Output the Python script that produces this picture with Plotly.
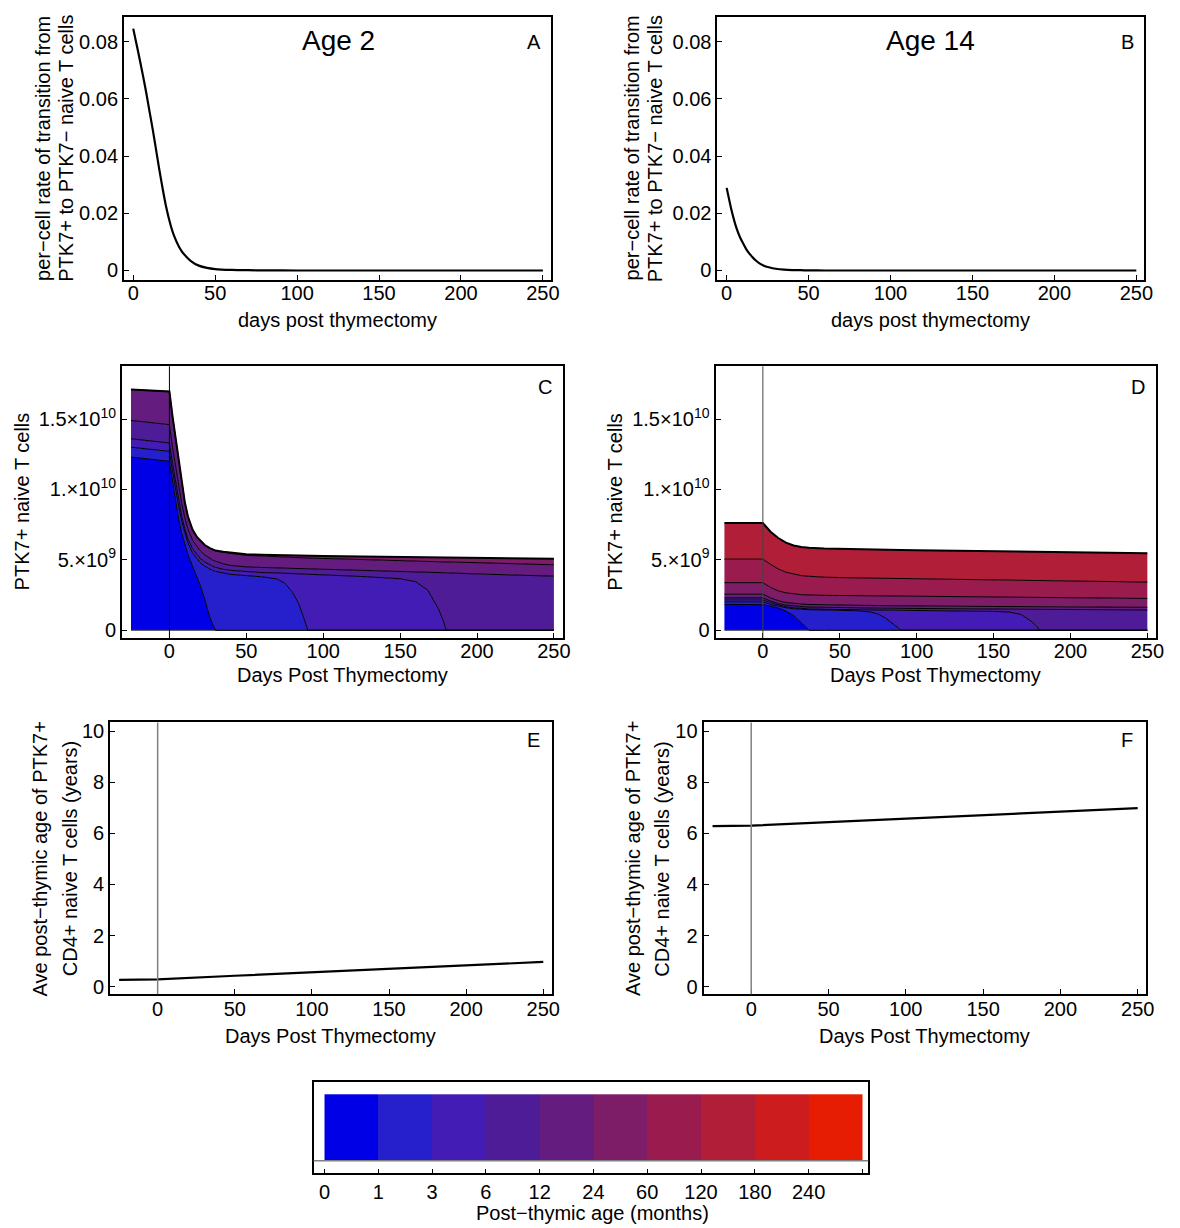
import plotly.graph_objects as go

FONT = "Liberation Sans"
W, H = 1180, 1228

# ---------------- Panels A / B : per-cell transition rate ----------------
rate_days = [0, 3, 6, 8, 10, 12, 14, 16, 18, 20, 23, 25, 28, 30, 35, 40, 45, 50, 60, 70, 80, 100, 150, 200, 250]
rate_age2 = [0.0846, 0.0765, 0.068, 0.062, 0.0555, 0.049, 0.042, 0.035, 0.0285, 0.0225, 0.0155, 0.012,
             0.0082, 0.0064, 0.0034, 0.0017, 0.0009, 0.0005, 0.0002, 0.0001, 0.00005, 0, 0, 0, 0]
rate_age14 = [0.0289, 0.021, 0.0148, 0.0118, 0.0095, 0.0074, 0.0058, 0.0045, 0.0034, 0.0025, 0.0016, 0.0012,
              0.0008, 0.0006, 0.0003, 0.00015, 0.0001, 0.00005, 0, 0, 0, 0, 0, 0, 0]

# ---------------- Panel C : age 2, cumulative counts (x 1e9) by post-thymic age ----------------
days_C = [-25, 0, 2, 4, 6, 8, 10, 12, 15, 18, 20, 23, 26, 28, 30, 35, 40, 50, 60, 70, 75, 80, 84, 87, 90,
          100, 125, 150, 160, 168, 172, 175, 178, 180, 200, 225, 250]
C_lt1 = [12.3, 12.0, 10.6, 9.2, 7.9, 6.9, 6.1, 5.4, 4.55, 3.7, 3.2, 2.2, 1.0, 0.45, 0] + [0] * 22
C_lt3 = [13.0, 12.7, 11.3, 10.0, 8.8, 7.75, 6.9, 6.2, 5.5, 5.05, 4.8, 4.55, 4.35, 4.25, 4.18, 4.05, 3.97,
         3.88, 3.8, 3.65, 3.35, 2.7, 1.9, 1.0, 0] + [0] * 12
C_lt6 = [13.6, 13.3, 11.85, 10.5, 9.2, 8.1, 7.2, 6.5, 5.8, 5.35, 5.1, 4.85, 4.65, 4.55, 4.47, 4.33, 4.25,
         4.15, 4.1, 4.07, 4.05, 4.03, 4.01, 4.0, 3.99, 3.95, 3.82, 3.66, 3.45, 2.85, 2.1, 1.5, 0.7, 0, 0, 0, 0]
C_lt12 = [14.9, 14.6, 13.0, 11.6, 10.2, 9.0, 8.0, 7.2, 6.4, 5.9, 5.65, 5.35, 5.12, 5.0, 4.9, 4.72, 4.6,
          4.5, 4.46, 4.43, 4.42, 4.41, 4.40, 4.39, 4.39, 4.36, 4.27, 4.18, 4.15, 4.13, 4.11, 4.10, 4.09, 4.08,
          4.0, 3.92, 3.84]
C_lt24 = [17.10, 16.95, 15.19, 13.59, 11.99, 10.39, 9.09, 8.09, 7.14, 6.59, 6.33, 6.03, 5.83, 5.72, 5.63,
          5.53, 5.45, 5.32, 5.26, 5.21, 5.19, 5.16, 5.15, 5.13, 5.13, 5.10, 5.01, 4.94, 4.91, 4.89, 4.88,
          4.87, 4.86, 4.85, 4.80, 4.72, 4.65]
C_lt60 = [17.10, 16.95, 15.2, 13.6, 12.0, 10.4, 9.1, 8.1, 7.15, 6.6, 6.35, 6.05, 5.85, 5.75, 5.66, 5.57,
          5.50, 5.40, 5.36, 5.33, 5.32, 5.31, 5.30, 5.29, 5.29, 5.27, 5.23, 5.20, 5.19, 5.18, 5.17, 5.17,
          5.16, 5.16, 5.14, 5.10, 5.07]

# ---------------- Panel D : age 14 ----------------
days_D = [-25, 0, 5, 10, 15, 20, 25, 28, 30, 40, 50, 60, 70, 75, 80, 85, 88, 90, 100, 125, 150, 160, 168,
          172, 175, 178, 180, 200, 225, 250]
D_lt1 = [1.84, 1.82, 1.72, 1.58, 1.36, 1.05, 0.55, 0.2, 0] + [0] * 21
D_lt3 = [2.02, 2.02, 1.84, 1.70, 1.60, 1.53, 1.49, 1.47, 1.46, 1.44, 1.42, 1.39, 1.30, 1.15, 0.85, 0.40,
         0.12, 0] + [0] * 12
D_lt6 = [2.16, 2.16, 1.96, 1.80, 1.68, 1.60, 1.55, 1.53, 1.52, 1.49, 1.47, 1.46, 1.45, 1.44, 1.43, 1.42,
         1.42, 1.41, 1.40, 1.37, 1.34, 1.30, 1.12, 0.85, 0.6, 0.28, 0, 0, 0, 0]
D_lt12 = [2.30, 2.30, 2.08, 1.90, 1.79, 1.72, 1.68, 1.66, 1.65, 1.62, 1.60, 1.59, 1.58, 1.57, 1.57, 1.56,
          1.56, 1.56, 1.55, 1.53, 1.51, 1.50, 1.50, 1.49, 1.49, 1.49, 1.49, 1.47, 1.46, 1.44]
D_lt24 = [2.56, 2.56, 2.30, 2.10, 1.97, 1.90, 1.86, 1.84, 1.83, 1.80, 1.78, 1.77, 1.76, 1.75, 1.75, 1.74,
          1.74, 1.74, 1.73, 1.71, 1.69, 1.68, 1.68, 1.68, 1.68, 1.68, 1.68, 1.67, 1.65, 1.63]
D_lt60 = [3.38, 3.38, 3.05, 2.80, 2.66, 2.58, 2.53, 2.51, 2.50, 2.48, 2.47, 2.46, 2.45, 2.45, 2.44, 2.44,
          2.44, 2.43, 2.42, 2.40, 2.37, 2.36, 2.35, 2.35, 2.34, 2.34, 2.34, 2.32, 2.29, 2.26]
D_lt120 = [5.05, 5.05, 4.68, 4.36, 4.12, 3.98, 3.88, 3.85, 3.83, 3.77, 3.74, 3.72, 3.70, 3.69, 3.68, 3.66,
           3.66, 3.65, 3.64, 3.61, 3.58, 3.56, 3.55, 3.54, 3.54, 3.53, 3.53, 3.50, 3.46, 3.42]
D_lt180 = [7.61, 7.61, 7.0, 6.55, 6.22, 6.02, 5.92, 5.88, 5.86, 5.80, 5.77, 5.75, 5.73, 5.72, 5.71, 5.70,
           5.70, 5.70, 5.69, 5.65, 5.61, 5.60, 5.58, 5.58, 5.57, 5.57, 5.57, 5.54, 5.50, 5.47]

# ---------------- Panels E / F : average post-thymic age (years) ----------------
age_days = [-25, 0, 50, 100, 150, 200, 250]
avg_age2 = [0.27, 0.29, 0.43, 0.56, 0.70, 0.84, 0.97]
avg_age14 = [6.28, 6.30, 6.44, 6.57, 6.71, 6.85, 6.99]

# ---------------- Colour key ----------------
age_bin_labels = ["0", "1", "3", "6", "12", "24", "60", "120", "180", "240", ""]
age_bin_colors = ["#0000E6", "#2620CC", "#421CB4", "#4E1C96", "#641C7E",
                  "#7D1C67", "#9A1C4E", "#B01E37", "#CC1C1E", "#E61C03"]

# ======================================================================
def px(x):
    return x / W


def py(y):
    return 1 - y / H


fig = go.Figure()

# frame geometry (pixels): left, right, top, bottom
frames = {
    1: (125, 555, 15, 279),    # A
    2: (723, 1153, 15, 279),   # B
    3: (123, 567, 366, 639),   # C
    4: (721, 1165, 366, 639),  # D
    5: (111, 556, 724, 997),   # E
    6: (709, 1155, 724, 997),  # F
    7: (316, 875, 1085, 1177), # colour key
}

tickfont = dict(family=FONT, size=20, color="black")
base_axis = dict(showline=True, linecolor="black", linewidth=2, mirror=True, ticks="inside", ticklen=5,
                 tickwidth=1, tickcolor="black", showgrid=False, zeroline=False, tickfont=tickfont,
                 fixedrange=True)

layout_axes = {}
for i, (l, r, t, b) in frames.items():
    xn = "xaxis" if i == 1 else f"xaxis{i}"
    yn = "yaxis" if i == 1 else f"yaxis{i}"
    layout_axes[xn] = dict(base_axis, domain=[px(l), px(r)], anchor=f"y{'' if i == 1 else i}",
                           ticklabelstandoff=-6)
    layout_axes[yn] = dict(base_axis, domain=[py(b), py(t)], anchor=f"x{'' if i == 1 else i}")

# A / B axes
for i in (1, 2):
    xn = "xaxis" if i == 1 else f"xaxis{i}"
    yn = "yaxis" if i == 1 else f"yaxis{i}"
    layout_axes[xn].update(range=[-5.6, 254.8], tickvals=[0, 50, 100, 150, 200, 250])
    layout_axes[yn].update(range=[-0.0032, 0.0887], tickvals=[0, 0.02, 0.04, 0.06, 0.08],
                           ticktext=["0", "0.02", "0.04", "0.06", "0.08"])
# C / D axes
for i in (3, 4):
    layout_axes[f"xaxis{i}"].update(range=[-30.8, 255.7], tickvals=[0, 50, 100, 150, 200, 250])
    layout_axes[f"yaxis{i}"].update(range=[-5.4e8, 1.875e10], tickvals=[0, 5e9, 1e10, 1.5e10],
                                    ticktext=["0", "5.\u00d710<sup>9</sup>", "1.\u00d710<sup>10</sup>",
                                              "1.5\u00d710<sup>10</sup>"])
# E / F axes
for i in (5, 6):
    layout_axes[f"xaxis{i}"].update(range=[-30.8, 255.5], tickvals=[0, 50, 100, 150, 200, 250],
                                    ticklabelstandoff=-4)
    layout_axes[f"yaxis{i}"].update(range=[-0.29, 10.34], tickvals=[0, 2, 4, 6, 8, 10])
# colour key axes
layout_axes["xaxis7"].update(range=[-0.203, 10.11], tickvals=list(range(11)), ticktext=age_bin_labels,
                             ticklen=4, ticklabelstandoff=0)
layout_axes["yaxis7"].update(range=[-0.19, 1.19], ticks="", showticklabels=False)

# ---------- A / B curves ----------
for i, vals in ((1, rate_age2), (2, rate_age14)):
    fig.add_trace(go.Scatter(x=rate_days, y=vals, mode="lines",
                             line=dict(color="black", width=2.2, shape="spline", smoothing=0.6),
                             xaxis="x" if i == 1 else f"x{i}", yaxis="y" if i == 1 else f"y{i}",
                             showlegend=False, hoverinfo="skip"))


# ---------- C / D stacked age bands ----------
def add_bands(days, bounds, xa, ya):
    zero = [0] * len(days)
    fig.add_trace(go.Scatter(x=days, y=zero, mode="lines", line=dict(width=0, color="rgba(0,0,0,0)"),
                             xaxis=xa, yaxis=ya, showlegend=False, hoverinfo="skip"))
    for bnd, col in zip(bounds, age_bin_colors):
        fig.add_trace(go.Scatter(x=days, y=[v * 1e9 for v in bnd], mode="lines",
                                 line=dict(width=0, color="rgba(0,0,0,0)"), fill="tonexty", fillcolor=col,
                                 xaxis=xa, yaxis=ya, showlegend=False, hoverinfo="skip"))
    # baseline
    fig.add_trace(go.Scatter(x=days, y=zero, mode="lines", line=dict(color="#444444", width=1),
                             xaxis=xa, yaxis=ya, showlegend=False, hoverinfo="skip"))
    for k, bnd in enumerate(bounds):
        top = k == len(bounds) - 1
        fig.add_trace(go.Scatter(x=days, y=[v * 1e9 for v in bnd], mode="lines",
                                 line=dict(color="black", width=2 if top else 1),
                                 xaxis=xa, yaxis=ya, showlegend=False, hoverinfo="skip"))


add_bands(days_C, [C_lt1, C_lt3, C_lt6, C_lt12, C_lt24, C_lt60], "x3", "y3")
add_bands(days_D, [D_lt1, D_lt3, D_lt6, D_lt12, D_lt24, D_lt60, D_lt120, D_lt180], "x4", "y4")

# ---------- E / F ----------
for i, vals in ((5, avg_age2), (6, avg_age14)):
    fig.add_trace(go.Scatter(x=age_days, y=vals, mode="lines", line=dict(color="black", width=2.2),
                             xaxis=f"x{i}", yaxis=f"y{i}", showlegend=False, hoverinfo="skip"))

# ---------- colour key ----------
fig.add_trace(go.Heatmap(z=[list(range(10))], x=[k + 0.5 for k in range(10)], y=[0.5],
                         colorscale=[[k / 9, c] for k, c in enumerate(age_bin_colors)], zmin=0, zmax=9,
                         showscale=False, xaxis="x7", yaxis="y7", hoverinfo="skip"))

shapes = []
# vertical x=0 lines
for i, col, wd in ((3, "black", 1), (4, "#444444", 1), (5, "#808080", 1.5), (6, "#808080", 1.5)):
    shapes.append(dict(type="line", xref=f"x{i}", yref=f"y{i} domain", x0=0, x1=0, y0=0, y1=1,
                       line=dict(color=col, width=wd), layer="above"))
# grey axis line under the colour key
shapes.append(dict(type="line", xref="x7 domain", yref="y7", x0=0, x1=1, y0=0, y1=0,
                   line=dict(color="#808080", width=1.5), layer="above"))

ann = []


def text(x, y, s, size=20, angle=0, xanchor="center"):
    ann.append(dict(x=px(x), y=py(y), xref="paper", yref="paper", text=s, showarrow=False,
                    textangle=angle, xanchor=xanchor, yanchor="middle",
                    font=dict(family=FONT, size=size, color="black")))


# panel titles & letters
text(341, 39, "Age 2", size=28)
text(938, 39, "Age 14", size=28)
text(547, 40, "A", xanchor="right")
text(1145, 40, "B", xanchor="right")
text(558, 387, "C", xanchor="right")
text(1156, 387, "D", xanchor="right")
text(546, 742, "E", xanchor="right")
text(1144, 742, "F", xanchor="right")

# axis titles A/B
for x0 in (0, 593):
    text(44 + x0, 147, "per\u2212cell rate of transition from", angle=-90)
    text(67 + x0, 147, "PTK7+ to PTK7\u2212 naive T cells", angle=-90)
text(340, 320, "days post thymectomy")
text(938, 320, "days post thymectomy")
# C/D
text(22, 502, "PTK7+ naive T cells", angle=-90)
text(619, 502, "PTK7+ naive T cells", angle=-90)
text(345, 676, "Days Post Thymectomy")
text(943, 676, "Days Post Thymectomy")
# E/F
text(40, 861, "Ave post\u2212thymic age of PTK7+", angle=-90)
text(70, 861, "CD4+ naive T cells (years)", angle=-90)
text(638, 861, "Ave post\u2212thymic age of PTK7+", angle=-90)
text(667, 861, "CD4+ naive T cells (years)", angle=-90)
text(333, 1039, "Days Post Thymectomy")
text(932, 1039, "Days Post Thymectomy")
# colour key title
text(597, 1217, "Post\u2212thymic age (months)")

fig.update_layout(width=W, height=H, margin=dict(l=0, r=0, t=0, b=0), paper_bgcolor="white",
                  plot_bgcolor="white", showlegend=False, shapes=shapes, annotations=ann,
                  font=dict(family=FONT, size=20, color="black"), **layout_axes)

fig.write_html("out.html")
